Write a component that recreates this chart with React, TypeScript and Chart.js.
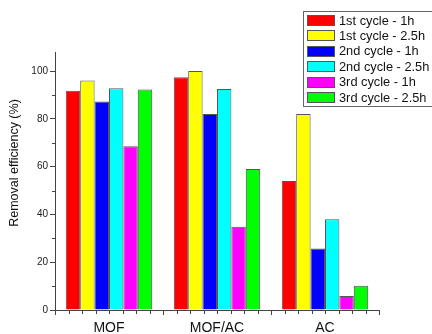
import React, { useEffect, useRef } from "react";
import { Chart, registerables } from "chart.js";

Chart.register(...registerables);

const categories = ["MOF", "MOF/AC", "AC"];
const seriesLabels = [
  "1st cycle - 1h",
  "1st cycle - 2.5h",
  "2nd cycle - 1h",
  "2nd cycle - 2.5h",
  "3rd cycle - 1h",
  "3rd cycle - 2.5h",
];
const cycle1h1 = [91.8, 97.4, 54];
const cycle1h25 = [96.1, 100, 82];
const cycle2h1 = [87.3, 82, 25.7];
const cycle2h25 = [92.8, 92.5, 38];
const cycle3h1 = [68.5, 34.9, 5.9];
const cycle3h25 = [92.3, 59, 10.2];
const yTicks = [0, 20, 40, 60, 80, 100];
const yMinorTicks = [10, 30, 50, 70, 90];
const yTitle = "Removal efficiency (%)";

const seriesValues = [cycle1h1, cycle1h25, cycle2h1, cycle2h25, cycle3h1, cycle3h25];
const colors = ["#ff0000", "#ffff00", "#0000ff", "#00ffff", "#ff00ff", "#00ff00"];
const AXIS = "#444444";
const BORDER = "#555555";

const extrasPlugin = {
  id: "extras",
  afterDraw(chart: any) {
    const ctx = chart.ctx as CanvasRenderingContext2D;
    const area = chart.chartArea;
    const x = chart.scales.x;
    const y = chart.scales.y;
    ctx.save();
    ctx.strokeStyle = AXIS;
    ctx.lineWidth = 1;
    for (const v of yMinorTicks) {
      const py = Math.round(y.getPixelForValue(v)) + 0.5;
      ctx.beginPath();
      ctx.moveTo(area.left - 3, py);
      ctx.lineTo(area.left, py);
      ctx.stroke();
    }
    const cw = x.getPixelForValue(1) - x.getPixelForValue(0);
    for (let i = 0; i < categories.length; i++) {
      const start = x.getPixelForValue(i) - cw / 2;
      for (let k = 1; k < 8; k++) {
        const px = Math.round(start + (k * cw) / 8) + 0.5;
        ctx.beginPath();
        ctx.moveTo(px, area.bottom);
        ctx.lineTo(px, area.bottom + 4);
        ctx.stroke();
      }
    }
    ctx.fillStyle = "#111";
    ctx.font = "12.5px Arial, 'Liberation Sans', sans-serif";
    ctx.textAlign = "center";
    ctx.textBaseline = "middle";
    ctx.translate(15, 163);
    ctx.rotate(-Math.PI / 2);
    ctx.fillText(yTitle, 0, 0);
    ctx.restore();

    ctx.save();
    const lx = 303.5;
    const ly = 11.5;
    ctx.strokeStyle = "#666";
    ctx.lineWidth = 1;
    ctx.fillStyle = "#fff";
    ctx.fillRect(lx, ly, 140, 95);
    ctx.strokeRect(lx, ly, 140, 95);
    ctx.font = "12.8px Arial, 'Liberation Sans', sans-serif";
    ctx.textAlign = "left";
    ctx.textBaseline = "middle";
    chart.data.datasets.forEach((ds: any, i: number) => {
      const cy = 20.5 + i * 15.4;
      ctx.fillStyle = ds.backgroundColor;
      ctx.fillRect(307, Math.round(cy - 5.5), 28, 11);
      ctx.strokeStyle = BORDER;
      ctx.strokeRect(307.5, Math.round(cy - 5.5) + 0.5, 27, 10);
      ctx.fillStyle = "#111";
      ctx.fillText(ds.label, 339, cy + 0.5);
    });
    ctx.restore();
  },
};

export default function App() {
  const ref = useRef<HTMLCanvasElement>(null);
  useEffect(() => {
    document.body.style.margin = "0";
    const chart = new Chart(ref.current!, {
      type: "bar",
      data: {
        labels: categories,
        datasets: seriesValues.map((vals, i) => ({
          label: seriesLabels[i],
          data: vals,
          backgroundColor: colors[i],
          borderColor: BORDER,
          borderWidth: 1,
          categoryPercentage: 0.8,
          barPercentage: 1,
        })),
      },
      options: {
        responsive: false,
        animation: false,
        layout: { padding: { top: 52, right: 53, left: 0, bottom: 0 } },
        plugins: {
          legend: { display: false },
          tooltip: { enabled: false },
        },
        scales: {
          x: {
            type: "category",
            offset: true,
            grid: {
              offset: true,
              drawOnChartArea: false,
              tickLength: 5,
              color: AXIS,
            },
            border: { display: true, color: AXIS, width: 1 },
            ticks: {
              color: "#111",
              padding: 5,
              font: { family: "Arial, 'Liberation Sans', sans-serif", size: 14 },
            },
            afterFit: (s: any) => {
              s.height = 24;
            },
          },
          y: {
            min: 0,
            max: 108,
            afterBuildTicks: (s: any) => {
              s.ticks = yTicks.map((v) => ({ value: v }));
            },
            grid: {
              drawOnChartArea: false,
              tickLength: 5,
              color: AXIS,
            },
            border: { display: true, color: AXIS, width: 1 },
            ticks: {
              color: "#222",
              padding: 2,
              font: { family: "Arial, 'Liberation Sans', sans-serif", size: 10 },
            },
            afterFit: (s: any) => {
              s.width = 55;
            },
          },
        },
      },
      plugins: [extrasPlugin],
    });
    return () => chart.destroy();
  }, []);
  return <canvas ref={ref} width={432} height={334} style={{ display: "block" }} />;
}
